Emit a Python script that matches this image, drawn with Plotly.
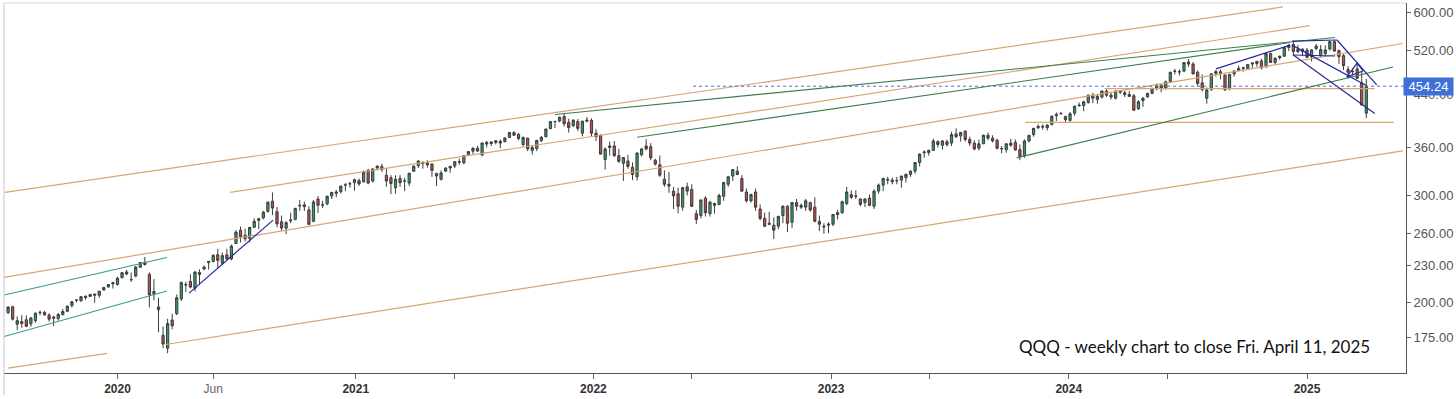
import numpy as np
import pandas as pd
import plotly.graph_objects as go

# ---------------- weekly QQQ candles (week starting Monday) ----------------
first_week = "2019-07-22"

opens = [
    # 2019
    192.2, 196.6, 184.0, 184.5, 187.2, 184.3, 186.5, 192.6, 192.5, 190.6, 188.2, 188.0,
    190.8, 193.3, 197.5, 201.6, 201.1, 204.6, 204.5, 206.4, 205.4, 209.6, 212.0, 214.5,
    # 2020
    214.0, 219.6, 224.4, 218.0, 221.0, 228.5, 232.8, 222.4, 206.5, 194.5, 176.5, 168.0, 187.0,
    191.5, 202.5, 213.5, 216.5, 211.0, 224.0, 227.0, 232.5, 233.5, 239.5, 232.0, 239.5, 235.8,
    250.0, 263.0, 258.0, 255.0, 266.0, 273.0, 275.5, 282.5, 293.5, 282.0, 271.5, 265.0, 272.5,
    274.0, 289.0, 289.5, 284.0, 272.0, 296.0, 289.5, 290.5, 299.5, 304.0, 304.5, 312.0, 313.5,
    # 2021
    315.0, 317.5, 316.0, 330.0, 317.0, 333.0, 335.0, 324.0, 321.0, 309.0, 320.0, 317.0, 314.5,
    329.0, 336.0, 340.0, 339.5, 338.0, 326.0, 319.0, 329.0, 333.0, 335.5, 341.0, 339.5, 350.0,
    355.0, 359.0, 350.0, 367.0, 365.5, 367.0, 368.5, 368.0, 374.0, 381.0, 378.5, 364.0, 373.0,
    356.0, 358.5, 369.5, 375.0, 386.5, 397.0, 398.0, 405.0, 396.0, 391.0, 397.0, 380.0, 399.5,
    # 2022
    399.0, 375.0, 377.0, 344.0, 360.0, 362.0, 349.0, 339.0, 342.0, 334.0, 322.0, 350.0, 358.0,
    361.0, 343.0, 337.0, 319.0, 313.0, 305.0, 302.0, 287.0, 310.0, 307.0, 280.0, 278.0, 297.0,
    280.0, 289.0, 290.0, 299.0, 313.0, 323.0, 329.0, 320.0, 304.0, 294.0, 304.0, 285.0, 275.0,
    270.0, 268.0, 267.0, 278.0, 288.0, 271.0, 292.0, 287.0, 287.0, 292.0, 287.0, 272.0, 267.0,
    # 2023
    268.0, 269.0, 279.0, 281.0, 291.0, 301.0, 299.0, 296.0, 292.0, 297.0, 288.0, 305.0, 312.0,
    319.0, 316.0, 317.0, 318.0, 321.0, 325.0, 329.0, 340.0, 354.0, 353.0, 356.0, 368.0, 363.0,
    368.0, 366.0, 379.0, 376.0, 383.0, 371.0, 366.0, 359.0, 365.0, 377.0, 373.0, 370.0, 358.0,
    357.0, 363.0, 367.0, 357.0, 349.0, 369.0, 378.0, 388.0, 390.0, 388.0, 393.0, 406.0, 409.0,
    # 2024
    405.0, 399.0, 410.0, 423.0, 422.0, 427.0, 439.0, 432.0, 436.0, 446.0, 439.0, 434.0, 446.0,
    443.0, 440.0, 438.0, 417.0, 430.0, 436.0, 442.0, 451.0, 456.0, 451.0, 462.0, 481.0, 480.0,
    481.0, 498.0, 494.0, 479.0, 460.0, 434.0, 449.0, 477.0, 480.0, 474.0, 450.0, 476.0, 482.0,
    486.0, 486.0, 494.0, 495.0, 500.0, 489.0, 514.0, 497.0, 506.0, 509.0, 526.0, 532.0, 518.0,
    523.0,
    # 2025
    521.0, 508.0, 524.0, 511.0, 514.0, 523.0, 538.0, 520.0, 510.0, 484.0, 480.0, 485.0, 460.0,
    410.0,
]

highs = [
    # 2019
    197.0, 197.5, 189.5, 190.5, 190.3, 189.0, 192.4, 193.8, 193.6, 191.9, 190.0, 192.0,
    195.0, 197.7, 201.0, 202.1, 204.6, 205.3, 206.4, 206.5, 208.8, 211.8, 214.3, 216.2,
    # 2020
    220.3, 224.0, 226.2, 224.0, 229.5, 232.8, 237.5, 224.0, 218.4, 203.5, 182.5, 187.8, 191.5,
    206.0, 216.5, 216.3, 222.5, 225.0, 226.7, 230.1, 234.0, 239.9, 245.0, 241.6, 245.0, 249.0,
    263.0, 266.6, 264.5, 266.0, 275.0, 275.5, 283.0, 293.0, 303.5, 287.0, 278.0, 272.0, 281.0,
    286.0, 295.0, 293.0, 288.0, 295.0, 299.4, 294.0, 300.0, 304.0, 306.5, 311.0, 314.5, 316.0,
    # 2021
    320.0, 320.0, 330.0, 332.0, 332.5, 336.0, 338.2, 333.0, 324.0, 324.0, 324.0, 321.0, 327.0,
    336.0, 342.5, 342.0, 342.8, 339.0, 327.0, 330.0, 334.0, 336.0, 341.5, 345.0, 349.0, 355.0,
    360.5, 362.0, 366.5, 369.0, 368.5, 369.5, 371.0, 374.0, 381.0, 382.8, 380.0, 375.5, 373.5,
    363.0, 370.0, 376.0, 386.5, 397.5, 398.5, 404.5, 408.7, 401.5, 400.5, 401.0, 398.0, 404.0,
    # 2022
    402.0, 386.0, 378.0, 360.0, 368.0, 369.0, 358.0, 347.0, 350.0, 340.0, 353.0, 359.0, 371.5,
    366.0, 345.0, 349.0, 330.0, 328.0, 310.0, 309.0, 310.0, 315.0, 313.0, 284.0, 295.0, 299.0,
    294.0, 292.0, 302.0, 316.0, 323.0, 331.0, 335.0, 324.0, 308.0, 302.0, 308.0, 290.0, 281.0,
    282.0, 276.0, 278.0, 289.0, 289.0, 292.5, 296.0, 291.0, 296.0, 293.0, 298.0, 278.0, 270.0,
    # 2023
    271.0, 279.0, 284.0, 294.0, 310.0, 306.0, 306.0, 297.0, 297.0, 301.0, 307.0, 314.0, 321.0,
    322.0, 321.0, 322.0, 323.0, 326.0, 330.0, 340.0, 352.0, 356.0, 357.0, 372.0, 370.0, 370.0,
    371.0, 382.0, 387.0, 382.0, 384.0, 375.0, 370.0, 371.0, 378.0, 381.0, 377.0, 372.0, 362.0,
    366.0, 372.0, 371.0, 364.0, 371.0, 377.0, 388.0, 393.0, 393.0, 393.0, 407.0, 411.0, 412.0,
    # 2024
    406.0, 412.0, 422.0, 427.0, 430.0, 440.0, 443.0, 440.0, 447.0, 449.0, 444.0, 447.0, 447.0,
    446.0, 446.0, 441.0, 431.0, 436.0, 443.0, 452.0, 459.0, 458.0, 464.0, 479.0, 485.0, 484.0,
    497.0, 503.5, 498.0, 482.0, 475.0, 452.0, 477.0, 483.0, 484.0, 474.0, 476.0, 483.0, 491.0,
    489.0, 493.0, 497.0, 500.0, 504.0, 515.0, 516.0, 507.0, 510.0, 527.0, 533.0, 540.0, 531.0,
    524.0,
    # 2025
    525.0, 523.0, 533.0, 531.0, 530.0, 538.0, 540.8, 522.0, 513.0, 490.0, 486.0, 497.0, 481.0,
    467.0,
]

lows = [
    # 2019
    191.3, 186.6, 180.0, 181.5, 182.0, 182.3, 185.0, 190.3, 190.3, 185.8, 182.7, 186.6,
    190.4, 192.6, 196.1, 199.9, 200.4, 201.9, 204.3, 199.6, 203.4, 209.0, 211.5, 210.7,
    # 2020
    213.0, 219.0, 221.7, 216.2, 219.8, 228.2, 229.8, 196.2, 201.5, 178.5, 168.0, 164.9, 180.5,
    190.5, 201.0, 208.0, 210.9, 208.5, 213.9, 226.0, 226.5, 232.8, 227.5, 230.5, 235.0, 234.5,
    249.5, 251.0, 252.0, 251.0, 265.0, 264.0, 274.0, 281.0, 278.5, 266.0, 262.0, 259.0, 270.0,
    273.0, 283.0, 283.0, 268.0, 271.0, 280.6, 286.0, 289.5, 296.0, 298.0, 302.0, 305.0, 309.0,
    # 2021
    305.5, 311.0, 315.0, 313.0, 315.0, 330.0, 328.0, 310.0, 301.5, 302.0, 310.0, 305.0, 311.0,
    328.0, 333.0, 332.0, 333.5, 322.0, 311.0, 317.5, 328.0, 327.0, 333.0, 337.0, 338.0, 348.5,
    351.0, 355.0, 348.0, 360.0, 362.0, 364.0, 359.0, 367.0, 373.5, 377.0, 370.0, 361.0, 355.0,
    350.5, 355.0, 367.0, 374.0, 386.0, 387.5, 396.0, 390.0, 381.0, 389.0, 383.0, 375.5, 396.0,
    # 2022
    376.0, 369.0, 350.5, 331.0, 349.0, 347.0, 339.5, 317.0, 332.0, 318.0, 317.5, 348.0, 356.0,
    343.0, 336.0, 322.0, 310.0, 303.0, 285.0, 280.2, 283.0, 300.0, 287.0, 269.3, 275.0, 277.0,
    277.0, 280.0, 289.0, 294.0, 310.0, 317.0, 324.0, 304.0, 292.0, 292.0, 283.0, 273.0, 266.0,
    268.0, 254.3, 264.0, 270.0, 261.0, 265.0, 283.0, 285.0, 283.0, 282.0, 271.0, 262.0, 259.5,
    # 2023
    260.0, 267.0, 274.0, 280.0, 289.0, 296.0, 296.0, 288.0, 287.0, 288.0, 285.0, 302.0, 305.0,
    313.0, 313.0, 313.0, 309.0, 315.0, 322.0, 326.0, 335.0, 346.0, 349.0, 356.0, 360.0, 357.0,
    361.0, 362.0, 373.0, 368.0, 368.0, 362.0, 356.0, 356.0, 365.0, 370.0, 367.0, 357.0, 352.0,
    353.0, 361.0, 356.0, 343.0, 346.0, 367.0, 375.0, 386.0, 385.0, 384.0, 391.0, 398.0, 408.0,
    # 2024
    396.0, 397.0, 406.0, 420.0, 413.0, 425.0, 426.0, 425.0, 433.0, 436.0, 432.0, 432.0, 441.0,
    436.0, 436.0, 414.0, 415.0, 420.0, 435.0, 441.0, 447.0, 444.0, 448.0, 461.0, 475.0, 473.0,
    479.0, 489.0, 475.0, 455.0, 445.0, 425.0, 446.0, 471.0, 466.0, 446.0, 447.0, 471.0, 481.0,
    480.0, 483.0, 487.0, 489.0, 484.0, 487.0, 496.0, 494.0, 502.0, 508.0, 519.0, 509.0, 515.0,
    509.0,
    # 2025
    505.0, 499.0, 521.0, 506.0, 510.0, 520.0, 518.0, 494.0, 483.0, 467.0, 473.0, 467.0, 422.0,
    402.4,
]

closes = [
    # 2019
    196.4, 187.6, 186.5, 185.9, 182.6, 188.5, 191.9, 192.3, 190.6, 187.6, 189.1, 191.0,
    193.1, 197.0, 200.4, 201.7, 204.3, 203.7, 206.0, 205.5, 208.6, 211.6, 213.9, 215.4,
    # 2020
    219.1, 223.8, 222.6, 217.9, 228.6, 232.6, 230.9, 205.7, 208.4, 196.5, 170.7, 184.5, 183.0,
    203.5, 215.5, 213.9, 211.9, 224.4, 222.3, 228.6, 233.6, 239.0, 234.5, 238.8, 235.7, 247.6,
    261.0, 256.5, 254.5, 265.8, 272.0, 274.7, 281.6, 292.5, 286.0, 269.4, 265.1, 270.6, 273.3,
    285.7, 288.5, 287.5, 268.9, 292.8, 289.1, 289.3, 299.0, 303.5, 302.6, 311.0, 312.3, 313.7,
    # 2021
    318.5, 313.5, 327.6, 314.4, 331.8, 335.4, 331.0, 316.9, 314.0, 319.0, 314.9, 316.9, 326.4,
    335.4, 342.0, 338.7, 337.0, 330.0, 323.0, 326.8, 332.8, 335.0, 341.0, 340.5, 349.0, 354.4,
    358.8, 355.0, 366.2, 364.6, 367.5, 369.3, 366.0, 373.0, 381.0, 377.0, 372.5, 373.7, 358.0,
    360.0, 369.8, 374.0, 386.1, 397.1, 397.3, 403.8, 393.9, 388.0, 399.3, 387.0, 397.8, 397.9,
    # 2022
    380.0, 380.0, 351.0, 358.0, 362.0, 349.0, 341.5, 346.5, 335.0, 325.0, 352.5, 358.0, 362.0,
    346.0, 338.0, 324.0, 313.0, 311.0, 299.5, 288.0, 309.0, 305.0, 288.0, 274.0, 295.0, 281.0,
    292.5, 291.0, 300.0, 315.0, 322.0, 331.0, 325.0, 305.0, 294.0, 301.0, 287.0, 275.0, 267.0,
    269.0, 263.0, 277.0, 288.0, 270.0, 292.0, 288.0, 289.0, 294.0, 284.0, 272.0, 269.0, 266.3,
    # 2023
    269.0, 279.0, 281.0, 293.0, 304.0, 298.0, 299.5, 290.0, 296.0, 289.0, 305.0, 312.0, 320.0,
    318.0, 318.0, 317.5, 323.0, 325.0, 329.0, 340.0, 351.0, 353.0, 356.0, 369.0, 364.0, 369.0,
    364.0, 378.0, 375.0, 381.0, 371.0, 366.0, 358.0, 365.0, 377.0, 373.0, 369.0, 359.0, 358.5,
    365.0, 366.0, 356.5, 348.0, 369.0, 377.0, 387.0, 390.0, 389.0, 392.0, 405.0, 408.0, 409.5,
    # 2024
    400.0, 409.0, 421.0, 422.0, 428.0, 439.0, 434.0, 437.0, 446.0, 439.0, 436.0, 446.0, 444.0,
    440.0, 437.0, 414.7, 428.0, 434.0, 442.0, 450.0, 455.0, 450.0, 462.0, 479.0, 480.5, 479.5,
    497.0, 494.0, 476.0, 459.0, 448.5, 448.0, 476.0, 480.0, 476.0, 448.0, 475.0, 481.0, 486.0,
    487.0, 493.0, 496.0, 499.0, 487.0, 514.0, 497.0, 505.0, 509.0, 526.0, 530.0, 518.0, 522.0,
    518.0,
    # 2025
    507.0, 521.0, 529.0, 522.0, 521.0, 538.0, 519.0, 508.0, 491.0, 479.0, 480.5, 468.0, 423.0,
    454.24,
]

last_price = 454.24

# y-axis ticks (log scale) and x-axis ticks
y_ticks = [175, 200, 230, 260, 300, 360, 440, 520, 600]
x_tick_dates = ["2020-01-06", "2020-06-01", "2021-01-06", "2021-06-06", "2022-01-06",
                "2022-06-06", "2023-01-06", "2023-06-06", "2024-01-06", "2024-06-06",
                "2025-01-06"]
x_tick_labels = ["2020", "Jun", "2021", "", "2022", "", "2023", "", "2024", "", "2025"]

# ---------------- hand-drawn trend lines (date, price) ----------------
tan_start_dates = ["2019-07-17", "2020-06-27", "2019-07-16", "2020-03-20", "2019-07-22",
                   "2023-10-31", "2024-03-01"]
tan_start_prices = [303.5, 303.5, 219.9, 170.4, 155.8, 396.0, 450.0]
tan_end_dates = ["2024-11-30", "2025-01-10", "2025-06-02", "2025-06-02", "2019-12-21",
                 "2025-05-19", "2025-04-20"]
tan_end_prices = [613.6, 571.5, 534.2, 355.3, 164.8, 396.0, 450.0]

teal_start_dates = ["2019-07-16", "2019-07-16"]
teal_start_prices = [205.6, 175.6]
teal_end_dates = ["2020-03-22", "2020-03-22"]
teal_end_prices = [237.0, 208.7]

green_start_dates = ["2021-11-08", "2022-03-14", "2023-10-18"]
green_start_prices = [407.9, 374.2, 346.0]
green_end_dates = ["2025-02-18", "2024-12-11", "2025-05-18"]
green_end_prices = [546.4, 536.2, 488.6]

navy_start_dates = ["2020-04-25", "2024-08-19", "2024-12-14", "2025-02-21", "2024-12-16",
                    "2024-12-14", "2024-12-16", "2025-03-08", "2025-03-24", "2025-04-02"]
navy_start_prices = [207.1, 485.0, 538.9, 541.3, 511.3, 530.9, 511.3, 470.5, 495.8, 481.2]
navy_end_dates = ["2020-09-01", "2024-12-11", "2025-02-21", "2025-04-23", "2025-04-20",
                  "2025-04-07", "2025-02-18", "2025-03-24", "2025-04-02", "2025-03-08"]
navy_end_prices = [273.2, 530.9, 541.3, 456.5, 409.4, 455.3, 509.4, 495.8, 481.2, 470.5]

price_line_dates = ["2022-06-08", "2025-06-07"]

# ---------------- figure ----------------
weeks = pd.date_range(first_week, periods=len(closes), freq="7D")

fig = go.Figure()
fig.add_trace(go.Candlestick(
    x=weeks, open=opens, high=highs, low=lows, close=closes,
    increasing=dict(line=dict(color="#3c3c3c", width=1), fillcolor="#2f9e62"),
    decreasing=dict(line=dict(color="#3c3c3c", width=1), fillcolor="#c04c4b"),
    whiskerwidth=0, showlegend=False, hoverinfo="skip",
))


def add_lines(d0, p0, d1, p1, color, width):
    for a, pa, b, pb in zip(d0, p0, d1, p1):
        fig.add_trace(go.Scatter(x=[a, b], y=[pa, pb], mode="lines",
                                 line=dict(color=color, width=width),
                                 showlegend=False, hoverinfo="skip"))


add_lines(tan_start_dates, tan_start_prices, tan_end_dates, tan_end_prices, "#d9a56e", 1.2)
add_lines(teal_start_dates, teal_start_prices, teal_end_dates, teal_end_prices, "#3a9a8c", 1.1)
add_lines(green_start_dates, green_start_prices, green_end_dates, green_end_prices, "#3f7d4d", 1.1)
add_lines(navy_start_dates, navy_start_prices, navy_end_dates, navy_end_prices, "#24279a", 1.2)

fig.add_trace(go.Scatter(x=price_line_dates, y=[last_price, last_price], mode="lines",
                         line=dict(color="#4a6fd0", width=1, dash="dot"),
                         showlegend=False, hoverinfo="skip"))

axis_font = "Liberation Sans, Arial, sans-serif"
tick_text = [("<b>%s</b>" % t) if t and t != "Jun" else
             ("<span style='color:#666'>%s</span>" % t if t else "") for t in x_tick_labels]

fig.update_layout(
    width=1456, height=399,
    margin=dict(l=4, r=50, t=3, b=21),
    paper_bgcolor="white", plot_bgcolor="white",
    showlegend=False,
    xaxis=dict(
        type="date", range=["2019-07-15 17:00", "2025-06-07"],
        rangeslider=dict(visible=False),
        tickvals=x_tick_dates, ticktext=tick_text,
        ticks="outside", ticklen=5, tickcolor="#666", tickwidth=1,
        showline=True, linecolor="#555", linewidth=1,
        showgrid=False, zeroline=False,
        tickfont=dict(family=axis_font, size=12, color="#333"),
    ),
    yaxis=dict(
        type="log", side="right", range=[2.18447, 2.79442],
        tickvals=y_ticks, ticktext=["%.2f" % v for v in y_ticks],
        ticks="outside", ticklen=4, tickcolor="#666",
        showline=True, linecolor="#555", linewidth=1,
        showgrid=False, zeroline=False,
        tickfont=dict(family=axis_font, size=13, color="#555"),
    ),
    shapes=[
        dict(type="line", xref="paper", yref="paper", x0=0, x1=0, y0=-0.06, y1=1,
             line=dict(color="#c8c8d0", width=1)),
        dict(type="line", xref="paper", yref="paper", x0=0, x1=1, y0=1, y1=1,
             line=dict(color="#d8d8e0", width=1)),
    ],
    annotations=[
        dict(xref="paper", yref="y", x=1, y=np.log10(last_price), xanchor="left", yanchor="middle",
             xshift=-3, text=" %.2f " % last_price, showarrow=False, bgcolor="#3f6fd8",
             borderpad=1, font=dict(family=axis_font, size=13, color="white")),
        dict(xref="paper", yref="paper", x=0.9757, y=0.072, xanchor="right", yanchor="middle",
             text="QQQ - weekly chart to close Fri. April 11, 2025", showarrow=False,
             font=dict(family="Lato, Carlito, sans-serif", size=17, color="#111")),
    ],
)

fig.write_html("out.html",
               config={"displayModeBar": False},
               post_script="document.body.style.margin='0';document.body.style.overflow='hidden';")
